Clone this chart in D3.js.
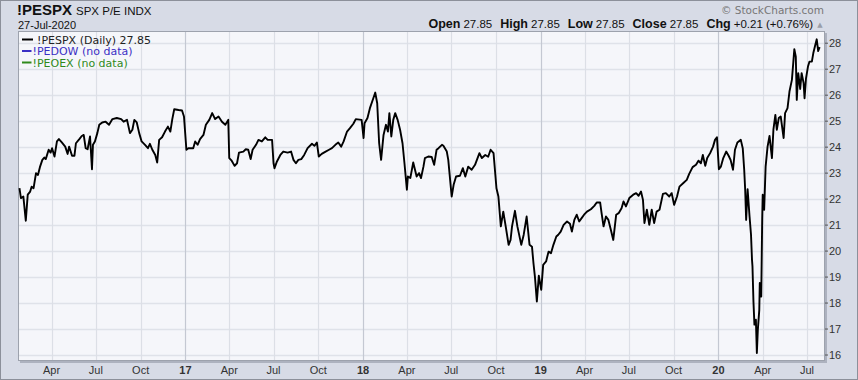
<!DOCTYPE html>
<html>
<head>
<meta charset="utf-8">
<script src="https://cdn.jsdelivr.net/npm/d3@7"></script>
<style>
html,body{margin:0;padding:0;background:#fff;}
#chart{width:858px;height:380px;}
</style>
</head>
<body>
<div id="chart"></div>
<script>
// !PESPX daily P/E
var dates=[
	'2016-01-26','2016-01-29','2016-02-03','2016-02-08','2016-02-12','2016-02-17','2016-02-20','2016-02-24','2016-02-29','2016-03-04',
	'2016-03-08','2016-03-13','2016-03-17','2016-03-20','2016-03-26','2016-03-30','2016-04-02','2016-04-07','2016-04-12','2016-04-16',
	'2016-04-22','2016-04-29','2016-05-04','2016-05-07','2016-05-13','2016-05-18','2016-05-21','2016-05-28','2016-06-02','2016-06-06',
	'2016-06-10','2016-06-14','2016-06-19','2016-06-23','2016-06-25','2016-06-29','2016-07-04','2016-07-08','2016-07-14','2016-07-21',
	'2016-07-28','2016-08-04','2016-08-13','2016-08-22','2016-08-27','2016-09-03','2016-09-09','2016-09-14','2016-09-18','2016-09-23',
	'2016-09-28','2016-10-03','2016-10-10','2016-10-16','2016-10-20','2016-10-25','2016-10-31','2016-11-04','2016-11-08','2016-11-14',
	'2016-11-20','2016-11-26','2016-12-01','2016-12-05','2016-12-09','2016-12-18','2016-12-25','2016-12-29',
	'2017-01-03','2017-01-07','2017-01-17','2017-01-21','2017-01-26','2017-01-31','2017-02-07','2017-02-12','2017-02-19','2017-02-25',
	'2017-03-03','2017-03-10','2017-03-17','2017-03-24','2017-03-30','2017-04-01','2017-04-06','2017-04-12','2017-04-17','2017-04-21',
	'2017-04-30','2017-05-05','2017-05-10','2017-05-15','2017-05-19','2017-05-26','2017-05-31','2017-06-07','2017-06-14','2017-06-19',
	'2017-06-28','2017-07-01','2017-07-03','2017-07-08','2017-07-15','2017-07-21','2017-07-30','2017-08-06','2017-08-11','2017-08-16',
	'2017-08-21','2017-08-27','2017-09-02','2017-09-09','2017-09-18','2017-09-23','2017-09-28','2017-10-02','2017-10-08','2017-10-16',
	'2017-10-23','2017-10-29','2017-11-05','2017-11-11','2017-11-17','2017-11-22','2017-11-29','2017-12-05','2017-12-12','2017-12-17',
	'2017-12-29',
	'2018-01-02','2018-01-04','2018-01-10','2018-01-15','2018-01-22','2018-01-26','2018-01-30','2018-02-03','2018-02-07','2018-02-12',
	'2018-02-17','2018-02-21','2018-02-24','2018-02-28','2018-03-04','2018-03-08','2018-03-13','2018-03-18','2018-03-23','2018-03-27',
	'2018-04-01','2018-04-03','2018-04-08','2018-04-14','2018-04-21','2018-04-26','2018-04-30','2018-05-05','2018-05-08','2018-05-15',
	'2018-05-22','2018-05-27','2018-06-01','2018-06-05','2018-06-12','2018-06-15','2018-06-22','2018-06-25','2018-07-02','2018-07-06',
	'2018-07-11','2018-07-19','2018-07-25','2018-07-30','2018-08-05','2018-08-12','2018-08-19','2018-08-28','2018-09-02','2018-09-09',
	'2018-09-15','2018-09-20','2018-09-26','2018-10-02','2018-10-06','2018-10-11','2018-10-16','2018-10-21','2018-10-27','2018-10-31',
	'2018-11-03','2018-11-09','2018-11-14','2018-11-22','2018-11-27','2018-12-03','2018-12-09','2018-12-14','2018-12-17','2018-12-20',
	'2018-12-24','2018-12-28',
	'2019-01-02','2019-01-06','2019-01-12','2019-01-17','2019-01-22','2019-01-27','2019-02-02','2019-02-06','2019-02-11','2019-02-17',
	'2019-02-24','2019-03-02','2019-03-06','2019-03-11','2019-03-16','2019-03-21','2019-03-26','2019-03-31','2019-04-06','2019-04-14',
	'2019-04-21','2019-04-26','2019-05-03','2019-05-06','2019-05-10','2019-05-15','2019-05-20','2019-05-25','2019-05-30','2019-06-05',
	'2019-06-10','2019-06-16','2019-06-20','2019-06-25','2019-07-02','2019-07-10','2019-07-16','2019-07-21','2019-07-26','2019-07-30',
	'2019-08-02','2019-08-07','2019-08-12','2019-08-17','2019-08-22','2019-08-27','2019-09-02','2019-09-09','2019-09-15','2019-09-22',
	'2019-09-27','2019-10-02','2019-10-08','2019-10-13','2019-10-21','2019-10-28','2019-11-02','2019-11-09','2019-11-16','2019-11-21',
	'2019-11-26','2019-11-30','2019-12-05','2019-12-09','2019-12-15','2019-12-21','2019-12-25','2019-12-29',
	'2020-01-02','2020-01-06','2020-01-11','2020-01-17','2020-01-22','2020-01-26','2020-01-31','2020-02-04','2020-02-09','2020-02-16',
	'2020-02-20','2020-02-23','2020-02-25','2020-02-27','2020-03-01','2020-03-05','2020-03-08','2020-03-10','2020-03-11','2020-03-13',
	'2020-03-15','2020-03-18','2020-03-20','2020-03-22','2020-03-25','2020-03-26','2020-03-29','2020-03-31','2020-04-01','2020-04-04',
	'2020-04-07','2020-04-11','2020-04-15','2020-04-20','2020-04-23','2020-04-27','2020-04-30','2020-05-04','2020-05-08','2020-05-14',
	'2020-05-17','2020-05-22','2020-05-26','2020-05-31','2020-06-03','2020-06-05','2020-06-08','2020-06-10','2020-06-13','2020-06-17',
	'2020-06-20','2020-06-24','2020-06-26','2020-06-29','2020-07-03','2020-07-06','2020-07-11','2020-07-14','2020-07-18','2020-07-21',
	'2020-07-24','2020-07-27'
];
var values=[
	22.42,22.04,22.10,21.17,22.17,22.29,22.48,22.42,23.00,22.93,
	23.23,23.51,23.60,23.54,23.90,23.79,23.96,23.64,24.22,24.31,
	24.18,24.02,23.74,24.02,23.67,23.67,24.15,24.31,24.43,24.47,
	23.96,23.92,24.41,23.15,24.09,24.22,24.54,24.86,24.95,24.98,
	24.86,25.08,25.12,25.08,24.98,25.05,24.54,24.67,25.05,24.95,
	24.54,24.22,24.09,23.96,24.13,23.90,23.70,23.41,24.28,24.38,
	24.60,24.79,24.60,25.08,25.46,25.43,25.41,25.18,
	23.90,23.96,23.96,24.22,24.09,24.31,24.47,24.86,25.05,25.31,
	25.08,25.18,24.98,24.86,25.05,23.58,23.48,23.28,23.38,23.79,
	23.83,23.92,23.90,23.54,23.90,24.09,24.28,24.22,24.38,24.28,
	24.28,23.38,23.19,23.45,23.70,23.83,23.79,23.83,23.51,23.38,
	23.51,23.54,23.70,23.96,24.13,24.05,24.18,23.64,23.74,23.83,
	23.90,23.96,24.09,24.18,24.02,24.22,24.60,24.73,24.90,25.08,
	25.05,
	24.35,24.92,25.12,25.50,25.88,26.10,25.69,24.15,23.51,24.47,
	24.86,24.60,25.31,24.41,25.05,25.31,25.05,24.67,24.15,23.38,
	22.36,22.87,22.81,23.41,22.87,23.00,22.81,23.25,23.58,23.64,
	23.62,23.32,23.90,23.96,24.09,24.05,23.83,23.51,22.10,22.55,
	22.87,22.90,23.19,22.87,23.25,23.13,23.32,23.77,23.58,23.70,
	23.63,23.90,23.77,22.42,22.10,20.95,21.52,20.95,20.24,20.43,
	20.95,21.55,20.95,20.24,20.63,21.33,20.24,20.17,19.54,19.02,
	18.06,19.05,
	18.51,19.47,19.60,19.98,19.92,20.24,20.56,20.63,20.75,21.01,
	21.14,21.05,20.75,21.20,21.40,21.14,21.27,21.40,21.52,21.61,
	21.74,21.87,21.87,21.46,20.95,21.33,21.20,20.82,20.43,21.40,
	21.46,21.65,21.91,21.72,22.04,22.17,22.23,22.13,22.29,21.97,
	21.08,21.59,21.01,21.59,21.08,21.52,21.59,22.20,22.23,22.10,
	22.23,21.78,22.10,22.48,22.62,22.74,22.97,23.23,23.32,23.48,
	23.38,23.70,23.28,23.58,23.77,24.02,24.28,24.38,
	23.15,23.25,23.58,23.83,23.67,23.51,23.13,23.90,24.18,24.28,
	23.96,23.13,22.36,21.20,22.38,21.33,20.63,19.67,19.41,18.06,
	17.17,17.36,16.08,16.97,17.74,18.77,18.25,21.27,22.17,21.59,
	23.25,24.02,24.43,23.58,24.67,25.24,24.67,25.12,25.18,24.35,
	25.31,25.50,26.14,26.59,27.29,27.77,27.48,25.82,26.85,26.24,
	26.85,26.47,25.88,26.65,27.10,27.29,27.29,27.62,27.93,28.15,
	27.70,27.85
];
var yTicks=[16,17,18,19,20,21,22,23,24,25,26,27,28];
var monthNames=['Jan','Feb','Mar','Apr','May','Jun','Jul','Aug','Sep','Oct','Nov','Dec'];
var legendNames=['!PESPX (Daily) 27.85','!PEDOW (no data)','!PEOEX (no data)'];
var legendColors=['#000000','#3a30c4','#2f8a1c'];
var quoteLabels=['Open','High','Low','Close','Chg'];
var quoteValues=['27.85','27.85','27.85','27.85','+0.21 (+0.76%)'];

var W=858,H=380,
	pLeft=18,pRight=825,pTop=31,pBottom=361,
	sansFont="'Liberation Sans',Arial,sans-serif",
	verdFont="'DejaVu Sans',Verdana,sans-serif";

var parse=d3.utcParse('%Y-%m-%d');
var data=dates.map(function(d,i){ return {date:parse(d),value:values[i]}; });

var x=d3.scaleUtc().domain([parse('2016-01-23'),parse('2020-08-07')]).range([pLeft,pRight]);
var y=d3.scaleLinear().domain([15.77,28.47]).range([pBottom,pTop]);

var svg=d3.select('#chart').append('svg')
	.attr('width',W).attr('height',H)
	.attr('xmlns','http://www.w3.org/2000/svg');

// outer frame
svg.append('rect').attr('x',0.5).attr('y',0.5).attr('width',W-1).attr('height',H-1)
	.attr('fill','#d7dbe6').attr('stroke','#8c909a');

// plot shadow + plot area
svg.append('rect').attr('x',pLeft+2).attr('y',pTop+2).attr('width',pRight-pLeft).attr('height',pBottom-pTop)
	.attr('fill','#adb2bf');
svg.append('rect').attr('x',pLeft).attr('y',pTop).attr('width',pRight-pLeft).attr('height',pBottom-pTop)
	.attr('fill','#f5f6fa');

var gGrid=svg.append('g').attr('id','g-grid');
var xTicks=x.ticks(d3.utcMonth.every(3));

gGrid.selectAll('line.h').data(yTicks).enter().append('line')
	.attr('x1',pLeft).attr('x2',pRight)
	.attr('y1',function(d){ return Math.round(y(d))+0.5; })
	.attr('y2',function(d){ return Math.round(y(d))+0.5; })
	.attr('stroke','#dfe2e9').attr('stroke-width',1.5);

gGrid.selectAll('line.v').data(xTicks).enter().append('line')
	.attr('x1',function(d){ return Math.round(x(d))+0.5; })
	.attr('x2',function(d){ return Math.round(x(d))+0.5; })
	.attr('y1',pTop).attr('y2',pBottom)
	.attr('stroke',function(d){ return d.getUTCMonth()==0?'#c4c8d2':'#dcdfe6'; })
	.attr('stroke-width',1.2);

// plot border
svg.append('rect').attr('x',pLeft+0.5).attr('y',pTop+0.5).attr('width',pRight-pLeft-1).attr('height',pBottom-pTop-1)
	.attr('fill','none').attr('stroke','#9da2ad');

// the P/E line
var line=d3.line()
	.x(function(d){ return x(d.date); })
	.y(function(d){ return y(d.value); });

svg.append('path').datum(data)
	.attr('d',line)
	.attr('fill','none')
	.attr('stroke','#000')
	.attr('stroke-width',1.9)
	.attr('stroke-linejoin','round');

// right axis
var gY=svg.append('g').attr('id','g-yaxis');
gY.selectAll('line').data(yTicks).enter().append('line')
	.attr('x1',pRight).attr('x2',pRight+3)
	.attr('y1',function(d){ return y(d); }).attr('y2',function(d){ return y(d); })
	.attr('stroke','#555');
gY.selectAll('text').data(yTicks).enter().append('text')
	.attr('x',pRight+4)
	.attr('y',function(d){ return y(d); })
	.attr('dy','0.36em')
	.attr('font-family',sansFont).attr('font-size',11).attr('fill','#333')
	.text(function(d){ return d; });

// bottom axis
var gX=svg.append('g').attr('id','g-xaxis');
gX.selectAll('text').data(xTicks).enter().append('text')
	.attr('x',function(d){ return x(d); })
	.attr('y',374)
	.attr('text-anchor','middle')
	.attr('font-family',sansFont).attr('font-size',11).attr('fill','#333')
	.attr('font-weight',function(d){ return d.getUTCMonth()==0?'bold':'normal'; })
	.text(function(d){
		var m=d.getUTCMonth();
		return m==0 ? String(d.getUTCFullYear()).slice(2) : monthNames[m];
	});

// title
var oTitle=svg.append('text').attr('x',17).attr('y',15).attr('font-family',sansFont).attr('fill','#111');
oTitle.append('tspan').attr('font-weight','bold').attr('font-size',15).text('!PESPX');
oTitle.append('tspan').attr('dx',4).attr('font-size',11.5).text('SPX P/E INDX');
svg.append('text').attr('x',18).attr('y',28.5).attr('font-family',sansFont).attr('font-size',11)
	.attr('fill','#111').text('27-Jul-2020');

// copyright + quote line
svg.append('text').attr('x',824).attr('y',13.5).attr('text-anchor','end')
	.attr('font-family',verdFont).attr('font-size',10.5).attr('fill','#777')
	.text('\u00a9 StockCharts.com');

var oQuote=svg.append('text').attr('x',813).attr('y',27.5).attr('text-anchor','end')
	.attr('font-family',sansFont).attr('fill','#111');
quoteLabels.forEach(function(s,i){
	oQuote.append('tspan').attr('font-weight','bold').attr('font-size',12.5).attr('dx',i==0?0:8).text(s);
	oQuote.append('tspan').attr('font-size',11.5).attr('dx',3).text(quoteValues[i]);
});
svg.append('text').attr('x',820).attr('y',26.5).attr('text-anchor','middle')
	.attr('font-family',verdFont).attr('font-size',7).attr('fill','#9a9ea8').text('\u25b2');

// legend
var gLegend=svg.append('g').attr('id','g-legend');
legendNames.forEach(function(s,i){
	var cy=39.5+i*11.5;
	gLegend.append('line')
		.attr('x1',22).attr('x2',i==0?33:31.5)
		.attr('y1',cy).attr('y2',cy)
		.attr('stroke',legendColors[i]).attr('stroke-width',2);
	gLegend.append('text')
		.attr('x',i==0?37:32.5).attr('y',cy+4)
		.attr('font-family',verdFont).attr('font-size',11)
		.attr('fill',i==0?'#222':legendColors[i])
		.text(s);
});
</script>
</body>
</html>
